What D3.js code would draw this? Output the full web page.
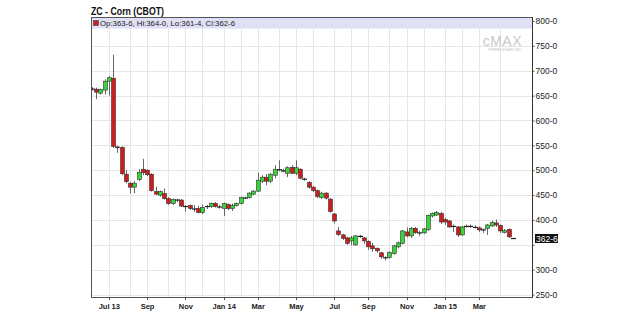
<!DOCTYPE html>
<html>
<head>
<meta charset="utf-8">
<script src="https://cdn.jsdelivr.net/npm/d3@7"></script>
<style>
  body { margin: 0; background: #fff; }
  svg { display: block; font-family: "Liberation Sans", Arial, sans-serif; }
</style>
</head>
<body>
<script>
// weekly bars (Monday dates)
var weeks = [
  "2013-06-03","2013-06-10","2013-06-17","2013-06-24","2013-07-01","2013-07-08","2013-07-15","2013-07-22",
  "2013-07-29","2013-08-05","2013-08-12","2013-08-19","2013-08-26","2013-09-02","2013-09-09","2013-09-16",
  "2013-09-23","2013-09-30","2013-10-07","2013-10-14","2013-10-21","2013-10-28","2013-11-04","2013-11-11",
  "2013-11-18","2013-11-25","2013-12-02","2013-12-09","2013-12-16","2013-12-23","2013-12-30","2014-01-06",
  "2014-01-13","2014-01-20","2014-01-27","2014-02-03","2014-02-10","2014-02-17","2014-02-24","2014-03-03",
  "2014-03-10","2014-03-17","2014-03-24","2014-03-31","2014-04-07","2014-04-14","2014-04-21","2014-04-28",
  "2014-05-05","2014-05-12","2014-05-19","2014-05-26","2014-06-02","2014-06-09","2014-06-16","2014-06-23",
  "2014-06-30","2014-07-07","2014-07-14","2014-07-21","2014-07-28","2014-08-04","2014-08-11","2014-08-18",
  "2014-08-25","2014-09-01","2014-09-08","2014-09-15","2014-09-22","2014-09-29","2014-10-06","2014-10-13",
  "2014-10-20","2014-10-27","2014-11-03","2014-11-10","2014-11-17","2014-11-24","2014-12-01","2014-12-08",
  "2014-12-15","2014-12-22","2014-12-29","2015-01-05","2015-01-12","2015-01-19","2015-01-26","2015-02-02",
  "2015-02-09","2015-02-16","2015-02-23","2015-03-02","2015-03-09","2015-03-16","2015-03-23","2015-03-30",
  "2015-04-06","2015-04-13","2015-04-20","2015-04-27"
];
var open  = [664,663,655,661,679,685,547,546, 492,474,466,481,502,500,492,457, 450,453,443,433,441,440,428,429,
             423,423,415,426,427,433,427,423, 431,423,429,433,445,445,452,458, 478,486,478,490,502,500,494,506,
             494,502,483,475,466,459,445,454, 442,412,378,370,364,358,350,368, 364,357,348,343,334,325,325,333,
             346,353,376,368,383,375,374,381, 408,410,413,401,398,388,386,370, 388,388,386,384,380,383,388,394,
             389,375,381,363.75];
var high  = [667,666,664,683,689,732,549,548, 500,476,478,502,523,502,494,467, 459,463,446,443,443,442,430,431,
             430,428,431,430,435,436,430,435, 433,433,435,447,447,456,460,495, 490,492,494,510,520,503,508,510,
             520,504,485,478,468,461,457,456, 444,414,386,372,366,368,370,370, 366,359,354,345,336,327,337,350,
             357,380,385,386,386,378,384,411, 415,418,416,405,400,391,388,388, 391,391,389,387,383,392,399,401,
             391,382,383,364];
var low   = [660,643,652,652,650,545,535,490, 474,453,454,478,490,488,457,450, 447,441,430,430,436,426,417,420,
             416,413,412,422,424,425,423,408, 420,418,427,431,442,443,450,456, 474,470,474,484,498,496,486,492,
             490,482,479,463,456,444,442,441, 415,393,368,360,350,349,348,364, 352,340,336,334,322,319,322,330,
             343,351,365,364,372,368,372,378, 405,408,392,390,384,376,366,368, 385,384,383,376,374,370,386,386,
             374,373,364,361.5];
var close = [663,657,662,679,686,548,545,493, 477,466,474,496,495,491,459,452, 457,443,433,441,440,428,427,423,
             422,415,425,427,433,427,426,433, 423,429,433,445,444,454,458,480, 486,478,492,502,501,498,505,494,
             505,484,482,466,459,447,454,444, 417,398,371,363,353,364,368,367, 358,346,342,338,326,324,335,348,
             354,378,368,383,375,374,382,409, 413,415,396,396,386,387,370,386, 387,387,385,380,380,390,395,390,
             378,379,366,362.75];

var priceTicks = [250,300,350,400,450,500,550,600,650,700,750,800];
var monthTicks = ["2013-07-01","2013-08-05","2013-09-02","2013-10-07","2013-11-04","2013-12-02","2014-01-06",
  "2014-02-03","2014-03-03","2014-04-07","2014-05-05","2014-06-02","2014-07-07","2014-08-04","2014-09-01",
  "2014-10-06","2014-11-03","2014-12-01","2015-01-05","2015-02-02","2015-03-02","2015-04-06"];
var monthLabels = ["Jul 13","","Sep","","Nov","","Jan 14","","Mar","","May","","Jul","","Sep","","Nov","","Jan 15","","Mar",""];

var title = "ZC - Corn (CBOT)";
var legendText = "Op:363-6, Hi:364-0, Lo:361-4, Cl:362-6";
var lastLabel = "362-6";

var parse = d3.timeParse("%Y-%m-%d");
var bars = weeks.map(function(w, i){
  return {date: parse(w), o: open[i], h: high[i], l: low[i], c: close[i]};
});

var W = 620, H = 317;
var pLeft = 92, pRight = 532, pTop = 17, pBottom = 297;

var svg = d3.select("body").append("svg").attr("width", W).attr("height", H);

var x = d3.scaleTime()
  .domain([parse("2013-07-01"), parse("2015-03-02")])
  .range([108.8, 478.8]);
var y = d3.scaleLinear().domain([250, 800]).range([294.6, 21]);

// title
svg.append("text").attr("x", 91).attr("y", 15)
  .attr("font-size", 10).attr("font-weight", "bold").attr("fill", "#111")
  .attr("textLength", 73).attr("lengthAdjust", "spacingAndGlyphs")
  .text(title);

// legend band
svg.append("rect").attr("x", pLeft).attr("y", pTop + 0.5).attr("width", pRight - pLeft).attr("height", 11)
  .attr("fill", "#dedef7");

var defs = svg.append("defs");
defs.append("clipPath").attr("id", "plot")
  .append("rect").attr("x", pLeft).attr("y", pTop).attr("width", pRight - pLeft).attr("height", pBottom - pTop);

// grid
var grid = svg.append("g");
grid.selectAll("line.h").data(priceTicks).enter().append("line")
  .attr("x1", pLeft).attr("x2", pRight)
  .attr("y1", function(d){ return Math.round(y(d)) + 0.5; })
  .attr("y2", function(d){ return Math.round(y(d)) + 0.5; })
  .attr("stroke", "#e6e6e6");
grid.selectAll("line.v").data(monthTicks).enter().append("line")
  .attr("x1", function(d){ return Math.round(x(parse(d))) + 0.5; })
  .attr("x2", function(d){ return Math.round(x(parse(d))) + 0.5; })
  .attr("y1", pTop + 1).attr("y2", pBottom)
  .attr("stroke", "#e6e6e6");

// watermark
svg.append("text").attr("x", 522).attr("y", 45.5).attr("text-anchor", "end")
  .attr("font-size", 14).attr("fill", "#c9c9c9").attr("letter-spacing", 0.5).text("cMAX");
svg.append("text").attr("x", 521).attr("y", 50.5).attr("text-anchor", "end")
  .attr("font-size", 2.6).attr("fill", "#bbb").text("POWERED BY AGRO INFO");

// frame
svg.append("rect").attr("x", pLeft - 0.5).attr("y", pTop + 0.5).attr("width", pRight - pLeft + 1).attr("height", pBottom - pTop)
  .attr("fill", "none").attr("stroke", "#555");
svg.append("line").attr("x1", pRight + 0.5).attr("x2", pRight + 0.5).attr("y1", pTop).attr("y2", pBottom + 1)
  .attr("stroke", "#333");

// legend marker and text
svg.append("rect").attr("x", 93.5).attr("y", 20.5).attr("width", 5).attr("height", 5)
  .attr("fill", "#d01c1c").attr("stroke", "#444").attr("stroke-width", 0.6);
svg.append("text").attr("x", 100).attr("y", 26)
  .attr("font-size", 8).attr("fill", "#222")
  .attr("textLength", 135).attr("lengthAdjust", "spacingAndGlyphs")
  .text(legendText);

// candles
var plot = svg.append("g").attr("clip-path", "url(#plot)");
var g = plot.selectAll("g.c").data(bars).enter().append("g");
g.append("line")
  .attr("x1", function(d){ return Math.round(x(d.date)) + 0.5; })
  .attr("x2", function(d){ return Math.round(x(d.date)) + 0.5; })
  .attr("y1", function(d){ return y(d.h); })
  .attr("y2", function(d){ return y(d.l); })
  .attr("stroke", "#666").attr("stroke-width", 1);
g.filter(function(d){ return Math.abs(d.o - d.c) >= 2; }).append("rect")
  .attr("x", function(d){ return Math.round(x(d.date)) - 1.5; })
  .attr("width", 4)
  .attr("y", function(d){ return y(Math.max(d.o, d.c)); })
  .attr("height", function(d){ return Math.abs(y(d.o) - y(d.c)); })
  .attr("fill", function(d){ return d.c >= d.o ? "#3ad43a" : "#cf1d1d"; })
  .attr("stroke", "#333").attr("stroke-width", 0.6);
g.filter(function(d){ return Math.abs(d.o - d.c) < 2; }).append("line")
  .attr("x1", function(d){ return Math.round(x(d.date)) - 2; })
  .attr("x2", function(d){ return Math.round(x(d.date)) + 3; })
  .attr("y1", function(d){ return y(d.c); })
  .attr("y2", function(d){ return y(d.c); })
  .attr("stroke", "#222").attr("stroke-width", 1.2);

// right axis (the 350 label sits under the last-price tag)
var yAxis = d3.axisRight(y).tickValues(priceTicks).tickSize(2).tickPadding(1)
  .tickFormat(function(d){ return d === 350 ? "" : d + "-0"; });
var ya = svg.append("g").attr("transform", "translate(" + (pRight + 0.5) + ",0)").call(yAxis);
ya.select(".domain").remove();
ya.selectAll("line").attr("stroke", "#555");
ya.selectAll("text").attr("font-size", 8.5).attr("fill", "#222")
  .attr("font-family", "'Liberation Sans', Arial, sans-serif");

// last price tag
var lastY = y(close[close.length - 1]);
svg.append("rect").attr("x", 535).attr("y", lastY - 4.5).attr("width", 23).attr("height", 9)
  .attr("fill", "#111");
svg.append("text").attr("x", 536).attr("y", lastY + 3)
  .attr("font-size", 8.5).attr("fill", "#fff").text(lastLabel);

// bottom axis
var xTickDates = monthTicks.map(parse);
var xAxis = d3.axisBottom(x).tickValues(xTickDates).tickSize(0).tickPadding(7)
  .tickFormat(function(d, i){ return monthLabels[i]; });
var xa = svg.append("g").attr("transform", "translate(0," + pBottom + ")").call(xAxis);
xa.select(".domain").remove();
xa.selectAll("text").attr("font-size", 7.5).attr("font-weight", "bold").attr("fill", "#222")
  .attr("font-family", "'Liberation Sans', Arial, sans-serif");
svg.append("g").selectAll("line").data(xTickDates.filter(function(d, i){ return monthLabels[i] !== ""; }))
  .enter().append("line")
  .attr("x1", function(d){ return Math.round(x(d)) + 0.5; })
  .attr("x2", function(d){ return Math.round(x(d)) + 0.5; })
  .attr("y1", pBottom).attr("y2", pBottom + 3).attr("stroke", "#555");
</script>
</body>
</html>
